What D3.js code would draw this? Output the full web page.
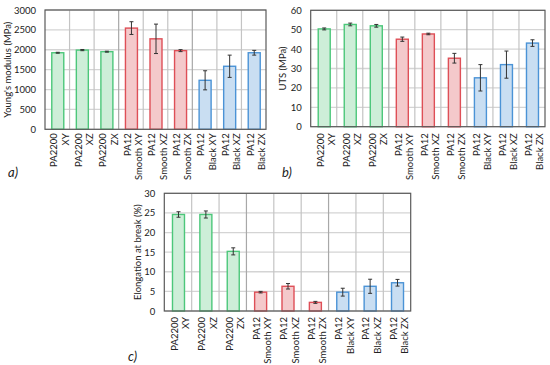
<!DOCTYPE html>
<html>
<head>
<meta charset="utf-8">
<script src="https://cdn.jsdelivr.net/npm/d3@7"></script>
<style>
  body { margin: 0; background: #fff; }
  text { font-family: Lato, "Liberation Sans", sans-serif; fill: #222; }
</style>
</head>
<body>
<svg id="chart" width="550" height="365"></svg>
<script>
// specimens, two label lines each
const labelTop = ["PA2200", "PA2200", "PA2200", "PA12", "PA12", "PA12", "PA12", "PA12", "PA12"];
const labelBottom = ["XY", "XZ", "ZX", "Smooth XY", "Smooth XZ", "Smooth ZX", "Black XY", "Black XZ", "Black ZX"];
const material = ["PA2200", "PA2200", "PA2200", "Smooth", "Smooth", "Smooth", "Black", "Black", "Black"];

const modulus = [1925, 1992, 1952, 2545, 2275, 1978, 1232, 1585, 1925];
const modulusErr = [12, 15, 12, 160, 370, 25, 240, 280, 60];
const modulusTicks = [0, 500, 1000, 1500, 2000, 2500, 3000];

const uts = [50.4, 52.7, 52.0, 45.1, 47.8, 35.3, 25.2, 32.0, 43.1];
const utsErr = [0.5, 0.7, 0.7, 1.1, 0.4, 2.5, 6.8, 7.0, 1.7];
const utsTicks = [0, 10, 20, 30, 40, 50, 60];

const elong = [24.6, 24.6, 15.2, 4.8, 6.3, 2.2, 4.8, 6.3, 7.2];
const elongErr = [0.7, 0.9, 0.9, 0.2, 0.7, 0.25, 1.0, 1.8, 0.85];
const elongTicks = [0, 5, 10, 15, 20, 25, 30];

const strokeColor = { PA2200: "#4cc77a", Smooth: "#de4f57", Black: "#4b93d6" };
const fillColor = { PA2200: "#cdeed8", Smooth: "#f4c9cb", Black: "#c9def2" };

const svg = d3.select("#chart");
const idx = d3.range(labelTop.length);

function drawPanel(p) {
  const g = svg.append("g").attr("transform", `translate(${p.left},${p.top})`);
  const w = p.width, h = p.height;

  const x = d3.scaleBand().domain(idx).range([0, w]);
  const y = d3.scaleLinear().domain([0, d3.max(p.ticks)]).range([h, 0]);

  // horizontal grid
  g.selectAll(".hgrid").data(p.ticks).join("line")
    .attr("x1", 0).attr("x2", w)
    .attr("y1", d => y(d)).attr("y2", d => y(d))
    .attr("stroke", "#d4d4d4").attr("stroke-width", 1.3);

  // vertical grid between categories
  g.selectAll(".vgrid").data(d3.range(1, idx.length)).join("line")
    .attr("x1", d => x(d)).attr("x2", d => x(d))
    .attr("y1", 0).attr("y2", h)
    .attr("stroke", d => d % 3 === 0 ? "#a8a8a8" : "#c4c4c4")
    .attr("stroke-width", 1.2);

  // bars
  const bw = 12;
  g.selectAll(".bar").data(idx).join("rect")
    .attr("x", i => x(i) + x.bandwidth() / 2 - bw / 2 + 0.5)
    .attr("y", i => y(p.values[i]))
    .attr("width", bw)
    .attr("height", i => h - y(p.values[i]))
    .attr("fill", i => fillColor[material[i]])
    .attr("stroke", i => strokeColor[material[i]])
    .attr("stroke-width", 1.4);

  // error bars
  const eb = g.selectAll(".err").data(idx).join("g")
    .attr("transform", i => `translate(${x(i) + x.bandwidth() / 2 + 0.5},0)`);
  eb.append("line")
    .attr("y1", i => y(p.values[i] + p.errs[i]))
    .attr("y2", i => y(p.values[i] - p.errs[i]))
    .attr("stroke", "#333").attr("stroke-width", 1);
  [1, -1].forEach(s => {
    eb.append("line")
      .attr("x1", -2).attr("x2", 2)
      .attr("y1", i => y(p.values[i] + s * p.errs[i]))
      .attr("y2", i => y(p.values[i] + s * p.errs[i]))
      .attr("stroke", "#333").attr("stroke-width", 1);
  });

  // frame
  g.append("rect").attr("width", w).attr("height", h)
    .attr("fill", "none").attr("stroke", "#5a5a5a").attr("stroke-width", 1.2);

  // y axis
  const ax = g.append("g").call(d3.axisLeft(y).tickValues(p.ticks).tickFormat(d3.format("d")).tickSize(0).tickPadding(9));
  ax.select(".domain").remove();
  ax.selectAll("text").style("font-size", "9.5px").style("font-family", "Lato, sans-serif").attr("fill", "#222");

  // y title
  g.append("text")
    .attr("transform", `translate(${p.titleX},${h / 2}) rotate(-90)`)
    .attr("text-anchor", "middle")
    .style("font-size", "9.5px")
    .text(p.title);

  // category labels
  const lab = g.selectAll(".lab").data(idx).join("text")
    .attr("transform", i => `translate(${x(i) + x.bandwidth() / 2},${h + p.labelGap}) rotate(-90)`)
    .attr("text-anchor", "end")
    .style("font-size", "9.5px");
  lab.append("tspan").attr("x", 0).attr("y", -0.2).text(i => labelTop[i]);
  lab.append("tspan").attr("x", 0).attr("y", 11.3).text(i => labelBottom[i]);

  // panel letter
  svg.append("text")
    .attr("x", p.letterX).attr("y", p.letterY)
    .style("font-size", "13px").style("font-style", "italic")
    .text(p.letter);
}

drawPanel({ left: 45, top: 10, width: 221, height: 119.3, values: modulus, errs: modulusErr,
  ticks: modulusTicks, title: "Young's modulus (MPa)", titleX: -34.5, labelGap: 4,
  letter: "a)", letterX: 8, letterY: 177 });
drawPanel({ left: 310.7, top: 10.3, width: 234.3, height: 116.4, values: uts, errs: utsErr,
  ticks: utsTicks, title: "UTS (MPa)", titleX: -25, labelGap: 6.5,
  letter: "b)", letterX: 282, letterY: 177 });
drawPanel({ left: 164.3, top: 193.3, width: 246.4, height: 117.7, values: elong, errs: elongErr,
  ticks: elongTicks, title: "Elongation at break (%)", titleX: -23.5, labelGap: 6,
  letter: "c)", letterX: 128, letterY: 361 });
</script>
</body>
</html>
